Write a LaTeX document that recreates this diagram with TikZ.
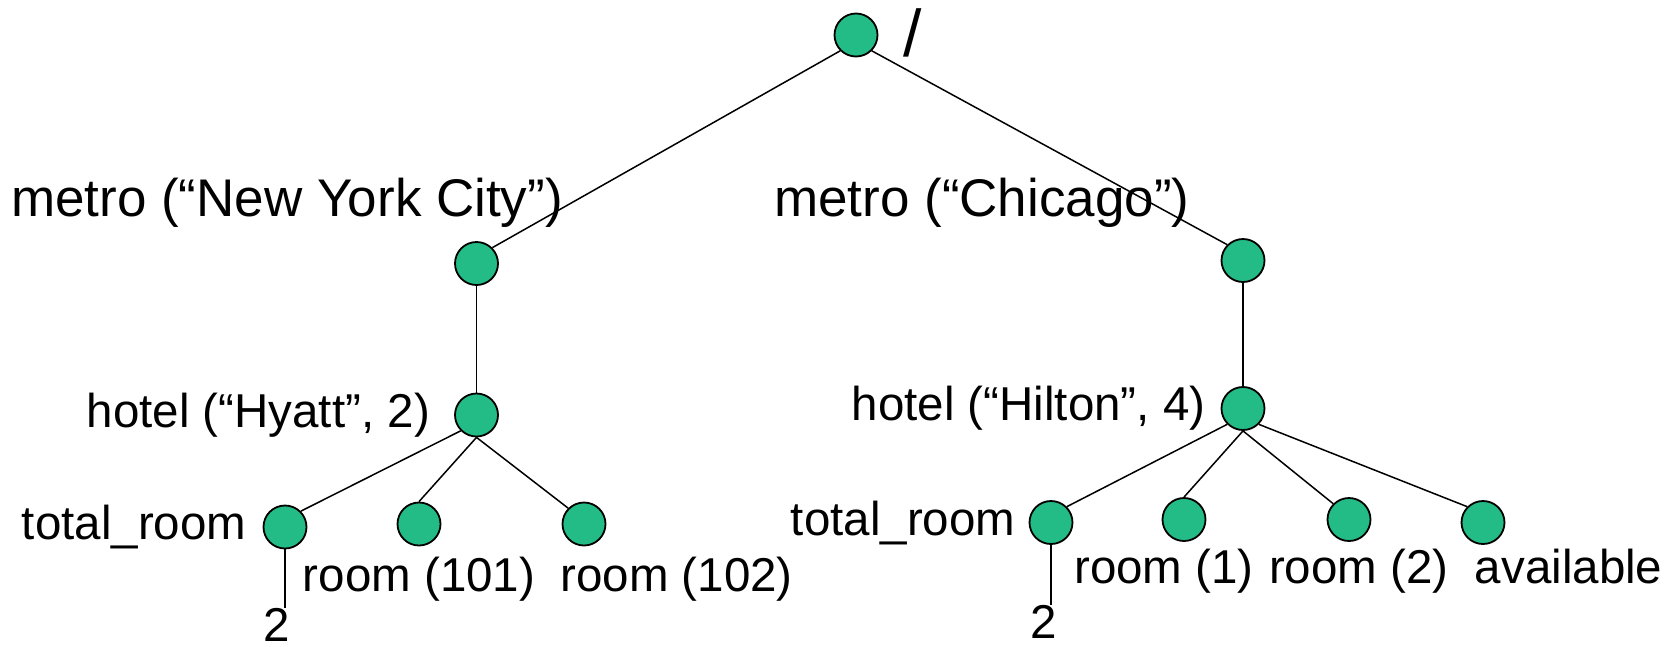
\documentclass[tikz,border=0pt]{standalone}
\usepackage{fontspec}
\setmainfont{Liberation Sans}
\usetikzlibrary{positioning}
\definecolor{leafgreen}{RGB}{36,188,134}

\begin{document}
\begin{tikzpicture}[
                x=1pt, y=-1pt,
                node distance=10pt,
                tnode/.style={circle, draw, line width=1.8pt, fill=leafgreen, minimum size=43pt, inner sep=0pt},
                lbl/.style={inner sep=0pt, font=\fontsize{47.5pt}{57pt}\selectfont},
                biglbl/.style={inner sep=0pt, font=\fontsize{53pt}{63pt}\selectfont},
                edge/.style={line width=1.5pt}
        ]
        \useasboundingbox (0,0) rectangle (1680,646);

        % Define the tree nodes
        \node[tnode] (root) at (856,35) {};
        \node[tnode] (m1) at (476.5,263.5) {};
        \node[tnode] (m2) at (1243,260.5) {};
        \node[tnode] (h1) at (476.5,415) {};
        \node[tnode] (h2) at (1243,408.5) {};

        % Leaves below the first hotel
        \node[tnode] (t1) at (285,527) {};
        \node[tnode] (r101) at (419,524) {};
        \node[tnode] (r102) at (584,524) {};

        % Leaves below the second hotel
        \node[tnode] (t2) at (1051,522.5) {};
        \node[tnode] (r1) at (1184,519.5) {};
        \node[tnode] (r2) at (1349,519.5) {};
        \node[tnode] (av) at (1483,522.5) {};

        % Labels
        \node[inner sep=0pt, font=\fontsize{66pt}{70pt}\selectfont, anchor=base west] (rootlbl) at (903,56) {/};
        \node[biglbl, anchor=base west] (m1lbl) at (11,216) {metro (“New York City”)};
        \node[biglbl, anchor=base west] (m2lbl) at (774,216) {metro (“Chicago”)};
        \node[lbl, left=24pt of h1] (h1lbl) {hotel (“Hyatt”, 2)};
        \node[lbl, left=15pt of h2] (h2lbl) {hotel (“Hilton”, 4)};
        \node[lbl, left=16pt of t1] (t1lbl) {total\_room};
        \node[lbl, left=13pt of t2] (t2lbl) {total\_room};
        \node[lbl, below=10pt of r101] (r101lbl) {room (101)};
        \node[lbl, right=25pt of r101lbl] (r102lbl) {room (102)};
        \node[lbl, anchor=base west] (r1lbl) at (1074,583) {room (1)};
        \node[lbl, right=15pt of r1lbl] (r2lbl) {room (2)};
        \node[lbl, anchor=base west] (avlbl) at ([xshift=26pt]r2lbl.base east) {available};
        \node[lbl, anchor=north] (v1) at (276.5,608) {2};
        \node[lbl, anchor=north] (v2) at (1043.5,605) {2};

        % Draw the edges
        \draw[edge] (root.south west) -- (m1.north east);
        \draw[edge] (root.south east) -- (m2.north west);
        \draw[edge] (m1.south) -- (h1.north);
        \draw[edge] (m2.south) -- (h2.north);

        \draw[edge] (h1.south west) -- (t1.north east);
        \draw[edge] (h1.south) -- (r101.north);
        \draw[edge] (h1.south) -- (r102.north west);
        \draw[edge] (t1.south) -- (t1.south |- v1.north);

        \draw[edge] (h2.south west) -- (t2.north east);
        \draw[edge] (h2.south) -- (r1.north);
        \draw[edge] (h2.south) -- (r2.north west);
        \draw[edge] (h2.south east) -- (av.north west);
        \draw[edge] (t2.south) -- (t2.south |- v2.north);
\end{tikzpicture}
\end{document}
